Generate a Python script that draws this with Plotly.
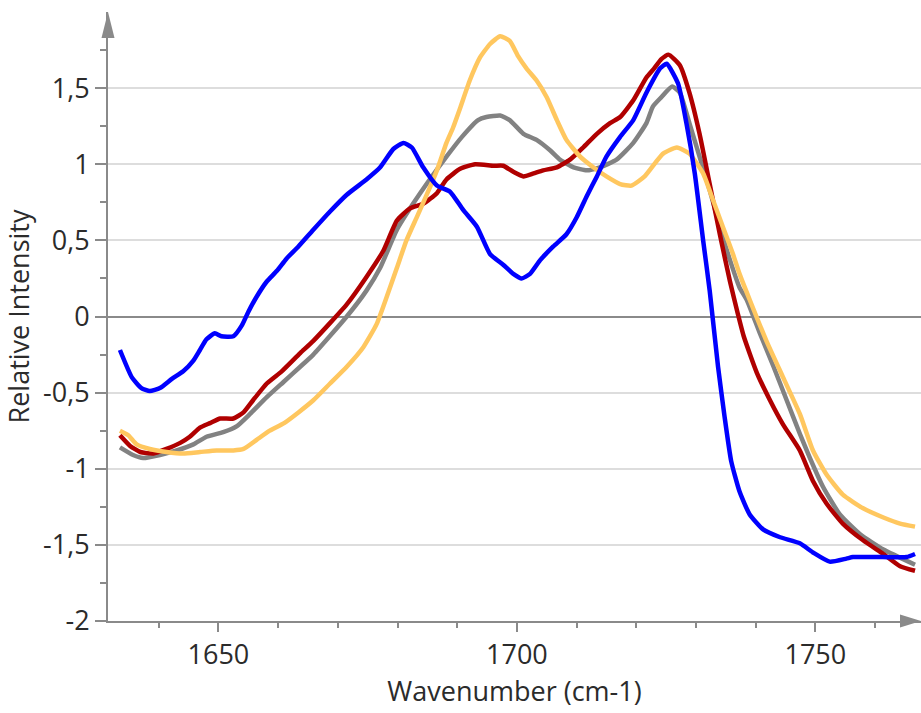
import plotly.graph_objects as go

# ---- data ----
blue_x = [1633.5, 1635.5, 1637.1, 1638.5, 1640.2, 1642.2, 1644.1, 1645.8, 1646.9, 1648.0,
          1649.4, 1650.5, 1652.5, 1653.9, 1655.0, 1656.4, 1658.1, 1659.8, 1661.4, 1663.4,
          1665.9, 1668.7, 1671.5, 1674.8, 1677.1, 1679.3, 1681.0, 1682.4, 1684.3, 1686.6,
          1688.8, 1691.0, 1693.3, 1695.5, 1697.7, 1699.4, 1700.8, 1702.2, 1703.9, 1706.1,
          1708.3, 1710.0, 1711.7, 1713.4, 1715.0, 1717.3, 1719.5, 1721.7, 1724.0, 1725.1,
          1727.0, 1728.4, 1729.8, 1731.2, 1732.3, 1733.7, 1734.8, 1735.9, 1737.3, 1739.0,
          1741.3, 1744.1, 1747.4, 1749.6, 1752.4, 1755.2, 1756.3, 1761.3, 1765.3, 1766.7]
blue_y = [-0.22, -0.40, -0.47, -0.49, -0.47, -0.41, -0.36, -0.29, -0.22, -0.15,
          -0.11, -0.13, -0.13, -0.06, 0.03, 0.13, 0.23, 0.30, 0.38, 0.46,
          0.57, 0.69, 0.80, 0.90, 0.98, 1.10, 1.14, 1.11, 0.98, 0.86,
          0.82, 0.70, 0.59, 0.41, 0.34, 0.28, 0.25, 0.28, 0.37, 0.46,
          0.54, 0.65, 0.79, 0.92, 1.05, 1.18, 1.29, 1.47, 1.63, 1.66,
          1.53, 1.27, 0.94, 0.50, 0.17, -0.33, -0.66, -0.95, -1.15, -1.30,
          -1.40, -1.45, -1.49, -1.55, -1.61, -1.59, -1.58, -1.58, -1.58, -1.56]

gray_x = [1633.5, 1635.7, 1637.4, 1640.2, 1643.0, 1645.8, 1648.0, 1650.8, 1653.1, 1655.3,
          1658.1, 1660.9, 1663.7, 1665.9, 1671.5, 1674.8, 1677.1, 1679.9, 1682.6, 1685.4,
          1688.2, 1690.8, 1693.5, 1694.9, 1697.2, 1698.8, 1701.1, 1703.3, 1705.6, 1707.2,
          1709.5, 1711.7, 1713.9, 1716.7, 1719.5, 1721.7, 1722.8, 1724.2, 1726.0, 1727.3,
          1728.9, 1730.6, 1732.3, 1734.0, 1735.7, 1737.3, 1738.5, 1740.7, 1743.0, 1745.2,
          1747.4, 1749.1, 1751.3, 1754.1, 1757.5, 1761.4, 1766.7]
gray_y = [-0.86, -0.91, -0.93, -0.91, -0.88, -0.84, -0.79, -0.76, -0.72, -0.64,
          -0.53, -0.43, -0.33, -0.25, 0.00, 0.17, 0.32, 0.57, 0.74, 0.90,
          1.05, 1.18, 1.29, 1.31, 1.32, 1.29, 1.20, 1.16, 1.09, 1.03,
          0.98, 0.96, 0.98, 1.03, 1.14, 1.27, 1.38, 1.44, 1.51, 1.47,
          1.27, 1.05, 0.83, 0.59, 0.37, 0.19, 0.11, -0.11, -0.33, -0.55,
          -0.77, -0.93, -1.12, -1.30, -1.43, -1.53, -1.63]

red_x = [1633.5, 1635.2, 1636.9, 1639.1, 1641.3, 1643.6, 1645.2, 1646.9, 1648.6, 1650.3,
         1652.5, 1654.2, 1655.8, 1658.1, 1660.6, 1663.7, 1665.9, 1671.5, 1674.8, 1677.6,
         1679.9, 1682.1, 1684.3, 1686.6, 1688.2, 1690.5, 1693.0, 1696.1, 1697.7, 1699.4,
         1701.1, 1702.8, 1704.4, 1706.7, 1708.9, 1711.1, 1713.4, 1715.6, 1717.3, 1719.5,
         1721.7, 1723.0, 1724.2, 1725.4, 1727.3, 1728.9, 1730.6, 1732.3, 1734.0, 1735.7,
         1737.0, 1738.0, 1740.2, 1742.4, 1744.6, 1747.4, 1749.6, 1751.9, 1754.6, 1758.0,
         1761.4, 1764.2, 1766.7]
red_y = [-0.78, -0.85, -0.89, -0.90, -0.87, -0.83, -0.79, -0.73, -0.70, -0.67,
         -0.67, -0.63, -0.55, -0.44, -0.36, -0.24, -0.16, 0.08, 0.26, 0.43,
         0.63, 0.71, 0.74, 0.81, 0.90, 0.97, 1.00, 0.99, 0.99, 0.95,
         0.92, 0.94, 0.96, 0.98, 1.03, 1.11, 1.20, 1.27, 1.31, 1.42,
         1.57, 1.63, 1.69, 1.72, 1.65, 1.47, 1.20, 0.87, 0.54, 0.23,
         0.02, -0.13, -0.37, -0.55, -0.71, -0.88, -1.08, -1.23, -1.36, -1.47,
         -1.56, -1.64, -1.67]

orange_x = [1633.5, 1634.9, 1636.3, 1638.5, 1641.3, 1644.1, 1646.9, 1649.7, 1652.5, 1654.2,
            1656.4, 1658.6, 1661.0, 1663.4, 1665.9, 1668.7, 1671.5, 1674.3, 1676.5, 1678.2,
            1679.9, 1681.5, 1683.2, 1684.9, 1686.6, 1688.2, 1689.3, 1690.5, 1692.1, 1693.8,
            1695.5, 1697.2, 1698.8, 1700.2, 1701.6, 1703.3, 1705.0, 1706.7, 1708.3, 1710.6,
            1712.8, 1715.0, 1717.3, 1719.2, 1721.4, 1723.4, 1724.5, 1726.8, 1728.9, 1731.2,
            1732.9, 1734.5, 1736.2, 1737.3, 1739.0, 1741.8, 1744.6, 1747.4, 1749.6, 1751.9,
            1754.6, 1758.0, 1761.4, 1764.2, 1766.7]
orange_y = [-0.75, -0.78, -0.84, -0.87, -0.89, -0.90, -0.89, -0.88, -0.88, -0.87,
            -0.81, -0.75, -0.70, -0.63, -0.55, -0.44, -0.33, -0.20, -0.05, 0.13,
            0.32, 0.50, 0.65, 0.80, 0.96, 1.14, 1.24, 1.37, 1.55, 1.70,
            1.79, 1.84, 1.81, 1.71, 1.63, 1.55, 1.44, 1.29, 1.16, 1.05,
            0.98, 0.92, 0.87, 0.86, 0.92, 1.02, 1.07, 1.11, 1.07, 0.94,
            0.76, 0.59, 0.41, 0.28, 0.11, -0.16, -0.40, -0.64, -0.88, -1.04,
            -1.17, -1.26, -1.32, -1.36, -1.38]

x_tick_vals = [1650, 1700, 1750]
x_tick_text = ["1650", "1700", "1750"]
x_minor_vals = [1640, 1660, 1670, 1680, 1690, 1710, 1720, 1730, 1740, 1760]
y_tick_vals = [-2, -1.5, -1, -0.5, 0, 0.5, 1, 1.5]
y_tick_text = ["-2", "-1,5", "-1", "-0,5", "0", "0,5", "1", "1,5"]
y_minor_vals = [-1.75, -1.25, -0.75, -0.25, 0.25, 0.75, 1.25, 1.75]

x_title = "Wavenumber (cm-1)"
y_title = "Relative Intensity"

series = [
    (gray_x, gray_y, "#828282"),
    (red_x, red_y, "#B00000"),
    (orange_x, orange_y, "#FFC75F"),
    (blue_x, blue_y, "#0000FF"),
]

FONT = "Open Sans, Noto Sans, DejaVu Sans, sans-serif"
AXIS = "#8a8a8a"
TXT = "#2b2b2b"

fig = go.Figure()
for xs, ys, col in series:
    fig.add_trace(go.Scatter(x=xs, y=ys, mode="lines",
                             line=dict(color=col, width=4.5, shape="spline", smoothing=0.5),
                             showlegend=False, hoverinfo="skip"))

fig.update_layout(
    width=921, height=713,
    margin=dict(l=108, r=0, t=12, b=92),
    paper_bgcolor="white", plot_bgcolor="white",
    font=dict(family=FONT, size=27, color=TXT),
    showlegend=False,
)

fig.update_xaxes(
    range=[1631.5, 1767.7],
    tickmode="array", tickvals=x_tick_vals, ticktext=x_tick_text,
    ticks="outside", ticklen=9, tickwidth=1.5, tickcolor=AXIS,
    minor=dict(tickmode="array", tickvals=x_minor_vals, ticks="outside",
               ticklen=5, tickwidth=1.5, tickcolor=AXIS, showgrid=False),
    showline=True, linecolor=AXIS, linewidth=2,
    showgrid=False, zeroline=False,
    tickfont=dict(size=27, color=TXT),
    title=dict(text=x_title, font=dict(size=27, color=TXT), standoff=10),
    automargin=False,
)

fig.update_yaxes(
    range=[-2, 2.0],
    tickmode="array", tickvals=y_tick_vals, ticktext=y_tick_text,
    ticks="outside", ticklen=11, tickwidth=1.5, tickcolor=AXIS,
    minor=dict(tickmode="array", tickvals=y_minor_vals, ticks="outside",
               ticklen=6, tickwidth=1.5, tickcolor=AXIS, showgrid=False),
    showline=True, linecolor=AXIS, linewidth=2,
    showgrid=True, gridcolor="#dddddd", gridwidth=1.5,
    zeroline=True, zerolinecolor=AXIS, zerolinewidth=2,
    tickfont=dict(size=27, color=TXT),
    title=dict(text=y_title, font=dict(size=27, color=TXT), standoff=6),
    automargin=False,
)

# axis arrow heads (paper coordinates of the plot area)
pw, ph = 921 - 108 - 0, 713 - 12 - 92
fig.add_shape(type="path", xref="paper", yref="paper",
              path=f"M 0,1 L {-6.5/pw},{1-26/ph} L {6.5/pw},{1-26/ph} Z",
              fillcolor=AXIS, line=dict(color=AXIS, width=0), layer="above")
fig.add_shape(type="path", xref="paper", yref="paper",
              path=f"M 1,0 L {1-21/pw},{-6.5/ph} L {1-21/pw},{6.5/ph} Z",
              fillcolor=AXIS, line=dict(color=AXIS, width=0), layer="above")

fig.write_html("out.html")
